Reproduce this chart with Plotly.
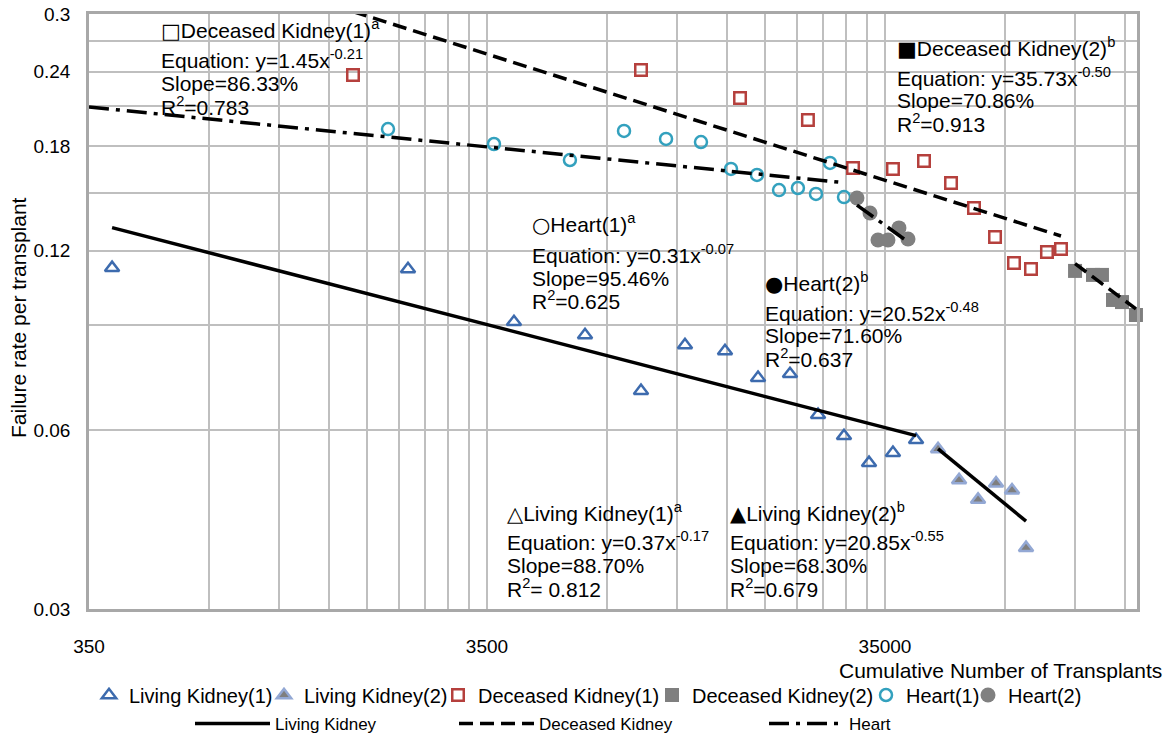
import math
import plotly.graph_objects as go

# ---- observed failure rates vs cumulative transplants ----
lk1_x = [400, 2216, 4091, 6171, 8531, 11003, 13870, 16790, 20200, 23760, 27610, 31910, 36650, 41890]
lk1_y = [0.1123, 0.1118, 0.0911, 0.0866, 0.0698, 0.0833, 0.0814, 0.0734, 0.0745, 0.0636, 0.0586, 0.0528, 0.0549, 0.0577]
lk2_x = [47570, 53730, 59960, 66540, 72980, 79140]
lk2_y = [0.0557, 0.0494, 0.0458, 0.0488, 0.0475, 0.0380]

dk1_x = [1612, 8531, 15130, 22410, 29090, 36650, 43860, 51280, 58570, 66150, 73820, 81450, 89340, 96880]
dk1_y = [0.2370, 0.2416, 0.2167, 0.1990, 0.1653, 0.1647, 0.1699, 0.1560, 0.1416, 0.1266, 0.1145, 0.1118, 0.1194, 0.1208]
dk2_x = [105100, 116600, 122800, 130900, 137900, 149500]
dk2_y = [0.1110, 0.1093, 0.1093, 0.0992, 0.0984, 0.0936]

h1_x = [350, 1974, 3644, 5655, 7733, 9861, 12070, 14360, 16690, 18960, 21150, 23480, 25460, 27610]
h1_y = [0.1983, 0.1922, 0.1814, 0.1705, 0.1908, 0.1850, 0.1828, 0.1647, 0.1609, 0.1518, 0.1530, 0.1495, 0.1686, 0.1477]
h2_x = [29760, 32090, 33610, 35610, 37940, 39980]
h2_y = [0.1472, 0.1389, 0.1251, 0.1251, 0.1311, 0.1256]

# ---- fitted learning curves: coefficient a and learning slope s,
#      y = a * x^b with b = log2(s) ----
fit_lk1 = (0.37, 0.8870)
fit_lk2 = (20.85, 0.6830)
fit_dk1 = (1.45, 0.8633)
fit_dk2 = (35.73, 0.7086)
fit_h1 = (0.31, 0.9546)
fit_h2 = (20.52, 0.7160)

# ---- axis ticks ----
x_ticks = [350, 3500, 35000]
x_ticktext = ["350", "3500", "35000"]
y_ticks = [0.03, 0.06, 0.12, 0.18, 0.24, 0.3]
y_ticktext = ["0.03", "0.06", "0.12", "0.18", "0.24", "0.3"]
y_minor = [0.09, 0.15, 0.21, 0.27]

FONT = "Liberation Sans, Arial, sans-serif"
X_MIN, X_MAX = 350, 150400
Y_MIN, Y_MAX = 0.03, 0.3

# plot-area geometry in pixels (used to place text and legends)
W, H = 1175, 736
L, R, T, B = 89, 38, 14, 127
PW, PH = W - L - R, H - T - B


def px_x(px):
    return (px - L) / PW


def px_y(py):
    return (H - B - py) / PH


def curve(fit, xs):
    a, s = fit
    b = math.log2(s)
    return [a * x ** b for x in xs]


fig = go.Figure()

# ---- scatter series ----
series = [
    ("Living Kidney(1)", lk1_x, lk1_y, dict(symbol="triangle-up-open", size=12.5, color="#3D6BAE",
                                            line=dict(width=2.5, color="#3D6BAE")), "legend"),
    ("Living Kidney(2)", lk2_x, lk2_y, dict(symbol="triangle-up", size=12.5, color="#7F7F7F",
                                            line=dict(width=2.5, color="#93A8D4")), "legend2"),
    ("Deceased Kidney(1)", dk1_x, dk1_y, dict(symbol="square-open", size=11.5, color="#B5403D",
                                              line=dict(width=2.5, color="#B5403D")), "legend3"),
    ("Deceased Kidney(2)", dk2_x, dk2_y, dict(symbol="square", size=14, color="#7F7F7F",
                                              line=dict(width=0)), "legend4"),
    ("Heart(1)", h1_x, h1_y, dict(symbol="circle-open", size=12, color="#33A1BE",
                                  line=dict(width=2.5, color="#33A1BE")), "legend5"),
    ("Heart(2)", h2_x, h2_y, dict(symbol="circle", size=15, color="#808080",
                                  line=dict(width=0)), "legend6"),
]
for name, xs, ys, marker, leg in series:
    fig.add_trace(go.Scatter(x=xs, y=ys, mode="markers", name=name, marker=marker,
                             legend=leg, cliponaxis=False))

# ---- trend lines ----
fits = [
    ("Living Kidney", lk1_x, fit_lk1, "solid", "legend7", True),
    ("Living Kidney", lk2_x, fit_lk2, "solid", "legend7", False),
    ("Deceased Kidney", dk1_x, fit_dk1, "14px,7px", "legend8", True),
    ("Deceased Kidney", dk2_x, fit_dk2, "14px,7px", "legend8", False),
    ("Heart", h1_x, fit_h1, "20px,7px,4px,7px", "legend9", True),
    ("Heart", h2_x, fit_h2, "20px,7px,4px,7px", "legend9", False),
]
for name, xs, fit, dash, leg, show in fits:
    fig.add_trace(go.Scatter(x=xs, y=curve(fit, xs), mode="lines", name=name,
                             line=dict(color="black", width=3.5, dash=dash),
                             legend=leg, legendgroup=name, showlegend=show))


def sym(ch):
    return f"<span style='font-family:DejaVu Sans;font-size:21px'>{ch}</span>"


# ---- equation text blocks ----
blocks = [
    (159, [29, 59, 83, 106], [sym("□") + "Deceased Kidney(1)<sup>a</sup>", "Equation: y=1.45x<sup>-0.21</sup>",
                              "Slope=86.33%", "R<sup>2</sup>=0.783"]),
    (895, [47, 77, 100, 123], [sym("■") + "Deceased Kidney(2)<sup>b</sup>", "Equation: y=35.73x<sup>-0.50</sup>",
                               "Slope=70.86%", "R<sup>2</sup>=0.913"]),
    (530, [224, 254, 278, 300], [sym("○") + "Heart(1)<sup>a</sup>", "Equation: y=0.31x<sup>-0.07</sup>",
                                 "Slope=95.46%", "R<sup>2</sup>=0.625"]),
    (763, [282, 312, 335, 358], [sym("●") + "Heart(2)<sup>b</sup>", "Equation: y=20.52x<sup>-0.48</sup>",
                                 "Slope=71.60%", "R<sup>2</sup>=0.637"]),
    (505, [512, 541, 565, 588], [sym("△") + "Living Kidney(1)<sup>a</sup>", "Equation: y=0.37x<sup>-0.17</sup>",
                                 "Slope=88.70%", "R<sup>2</sup>= 0.812"]),
    (728, [512, 541, 565, 588], [sym("▲") + "Living Kidney(2)<sup>b</sup>", "Equation: y=20.85x<sup>-0.55</sup>",
                                 "Slope=68.30%", "R<sup>2</sup>=0.679"]),
]
for left, ys, lines in blocks:
    for py, txt in zip(ys, lines):
        fig.add_annotation(x=px_x(left), y=px_y(py), xref="paper", yref="paper",
                           xanchor="left", yanchor="middle", text=txt, showarrow=False,
                           font=dict(family=FONT, size=21, color="black"))

# ---- axis titles ----
fig.add_annotation(x=px_x(1164), y=px_y(670), xref="paper", yref="paper",
                   xanchor="right", yanchor="middle", showarrow=False,
                   text="Cumulative Number of Transplants",
                   font=dict(family=FONT, size=21, color="black"))
fig.add_annotation(x=px_x(18), y=px_y(318), xref="paper", yref="paper",
                   xanchor="center", yanchor="middle", showarrow=False, textangle=-90,
                   text="Failure rate per transplant",
                   font=dict(family=FONT, size=21, color="black"))

grid = "#BFBFBF"
x_minor = [k * d for d in (350, 3500, 35000) for k in range(2, 10) if k * d < X_MAX]

fig.update_xaxes(
    type="log", range=[math.log10(X_MIN), math.log10(X_MAX)],
    tickmode="array", tickvals=x_ticks, ticktext=x_ticktext,
    showgrid=True, gridcolor=grid, gridwidth=2,
    minor=dict(tickmode="array", tickvals=x_minor, showgrid=True, gridcolor=grid, gridwidth=2, ticks=""),
    showline=True, linecolor="#A8A8A8", linewidth=2.5, mirror=True,
    ticks="", ticklabelstandoff=18, zeroline=False,
    tickfont=dict(family=FONT, size=19, color="black"),
)
fig.update_yaxes(
    type="log", range=[math.log10(Y_MIN), math.log10(Y_MAX)],
    tickmode="array", tickvals=y_ticks, ticktext=y_ticktext,
    showgrid=True, gridcolor=grid, gridwidth=2,
    minor=dict(tickmode="array", tickvals=y_minor, showgrid=True, gridcolor=grid, gridwidth=2, ticks=""),
    showline=True, linecolor="#A8A8A8", linewidth=2.5, mirror=True,
    ticks="", ticklabelstandoff=12, zeroline=False,
    tickfont=dict(family=FONT, size=19, color="black"),
)


def legend_at(left_px, center_py, size, itemwidth=30):
    return dict(x=px_x(left_px), y=px_y(center_py), xanchor="left", yanchor="middle",
                orientation="h", bgcolor="rgba(0,0,0,0)", borderwidth=0,
                itemwidth=itemwidth, font=dict(family=FONT, size=size, color="black"))


fig.update_layout(
    width=W, height=H,
    margin=dict(l=L, r=R, t=T, b=B, autoexpand=False),
    paper_bgcolor="white", plot_bgcolor="white",
    showlegend=True,
    legend=legend_at(89, 695, 20),
    legend2=legend_at(264, 695, 20),
    legend3=legend_at(438, 695, 20),
    legend4=legend_at(652, 695, 20),
    legend5=legend_at(866, 695, 20),
    legend6=legend_at(968, 695, 20),
    legend7=legend_at(190, 724, 17, 75),
    legend8=legend_at(454, 724, 17, 75),
    legend9=legend_at(764, 724, 17, 75),
)

fig.write_html("out.html")
